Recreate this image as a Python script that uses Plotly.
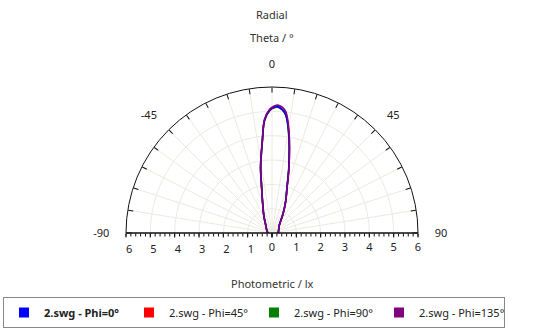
import plotly.graph_objects as go

# ---------------- data ----------------
theta_deg = [-90, -60, -39, -25, -16.7, -12, -9.9, -6, -3.7, -1, 1, 2.9, 4.8, 6.6, 9.6, 14.4, 18, 23.3, 30, 43, 60, 90]
r_phi0   = [0.17, 0.25, 0.41, 0.80, 1.36, 2.10, 2.73, 3.80, 4.67, 5.06, 5.17, 5.19, 5.08, 4.89, 4.13, 2.78, 2.00, 1.42, 0.90, 0.44, 0.32, 0.26]
r_phi45  = [0.17, 0.25, 0.40, 0.79, 1.34, 2.08, 2.70, 3.78, 4.64, 5.04, 5.15, 5.18, 5.10, 4.93, 4.18, 2.80, 2.02, 1.42, 0.90, 0.44, 0.32, 0.26]
r_phi90  = [0.17, 0.25, 0.40, 0.79, 1.35, 2.09, 2.72, 3.79, 4.66, 5.05, 5.16, 5.18, 5.07, 4.88, 4.12, 2.77, 2.00, 1.41, 0.90, 0.44, 0.32, 0.26]
r_phi135 = [0.17, 0.25, 0.41, 0.81, 1.37, 2.12, 2.75, 3.82, 4.70, 5.10, 5.22, 5.26, 5.18, 5.00, 4.20, 2.82, 2.03, 1.43, 0.91, 0.45, 0.32, 0.26]

series_names = ["<b>2.swg - Phi=0°</b>", "2.swg - Phi=45°", "2.swg - Phi=90°", "2.swg - Phi=135°"]
series_colors = ["#0000FF", "#FF0000", "#008000", "#800080"]
series_r = [r_phi0, r_phi45, r_phi90, r_phi135]

angular_tick_vals = list(range(-90, 91, 9))
angular_label_vals = [-90, -45, 0, 45, 90]
angular_label_text = ["-90", "-45", "0", "45", "90"]
radial_major = [0, 1, 2, 3, 4, 5, 6]
radial_major_text = ["0", "1", "2", "3", "4", "5", "6"]
radial_major_text_left = ["", "1", "2", "3", "4", "5", "6"]
radial_minor = [round(i * 0.2, 1) for i in range(31)]

FONT = "Noto Sans"
GRID = "#ECEAE0"

fig = go.Figure()

# draw order: red, green, blue, purple
for idx in [1, 2, 0, 3]:
    fig.add_trace(go.Scatterpolar(
        r=series_r[idx], theta=theta_deg, mode="lines",
        line=dict(color=series_colors[idx], width=1.6, shape="spline"),
        showlegend=False, subplot="polar", hoverinfo="skip"))

# legend entries (square symbols)
for name, col in zip(series_names, series_colors):
    fig.add_trace(go.Scatterpolar(
        r=[None], theta=[None], mode="markers",
        marker=dict(symbol="square", size=10, color=col),
        name=name, subplot="polar"))

cx0, cx1 = (272 - 146) / 534, (272 + 146) / 534
cy0, cy1 = 1 - 233 / 328, 1 - 87 / 328
dom = dict(x=[cx0, cx1], y=[cy0, cy1])

common_ang = dict(rotation=90, direction="clockwise", thetaunit="degrees")

fig.update_layout(
    width=534, height=328,
    margin=dict(l=0, r=0, t=0, b=0, autoexpand=False),
    paper_bgcolor="white",
    font=dict(family=FONT, size=11, color="#222"),
    polar=dict(
        domain=dom, sector=[0, 180], bgcolor="white",
        angularaxis=dict(**common_ang, tickvals=angular_tick_vals, showticklabels=False,
                         ticks="inside", ticklen=5, tickcolor="#111", showline=True,
                         linecolor="#111", linewidth=1, showgrid=True, gridcolor=GRID, gridwidth=1),
        radialaxis=dict(range=[0, 6], angle=0, side="clockwise", tickvals=radial_major,
                        ticktext=radial_major_text, ticks="outside", ticklen=4, tickcolor="#111",
                        showline=True, linecolor="#111", linewidth=1, showgrid=True,
                        gridcolor=GRID, gridwidth=1, tickfont=dict(size=11, color="#222")),
    ),
    polar2=dict(
        domain=dom, sector=[0, 180], bgcolor="rgba(0,0,0,0)",
        angularaxis=dict(**common_ang, tickvals=angular_label_vals, ticktext=angular_label_text,
                         ticks="outside", ticklen=14, tickcolor="rgba(0,0,0,0)", showline=False,
                         showgrid=False, tickfont=dict(size=11, color="#222")),
        radialaxis=dict(range=[0, 6], angle=180, side="counterclockwise", tickvals=radial_major,
                        ticktext=radial_major_text_left, ticks="outside", ticklen=4, tickcolor="#111",
                        tickangle=180,
                        showline=True, linecolor="#111", linewidth=1, showgrid=False,
                        tickfont=dict(size=11, color="#222")),
    ),
    polar3=dict(
        domain=dom, sector=[0, 180], bgcolor="rgba(0,0,0,0)",
        angularaxis=dict(**common_ang, visible=False),
        radialaxis=dict(range=[0, 6], angle=0, side="clockwise", tickvals=radial_minor,
                        showticklabels=False, ticks="outside", ticklen=3, tickcolor="#111",
                        showline=False, showgrid=False),
    ),
    polar4=dict(
        domain=dom, sector=[0, 180], bgcolor="rgba(0,0,0,0)",
        angularaxis=dict(**common_ang, visible=False),
        radialaxis=dict(range=[0, 6], angle=180, side="counterclockwise", tickvals=radial_minor,
                        showticklabels=False, ticks="outside", ticklen=3, tickcolor="#111",
                        showline=False, showgrid=False),
    ),
    legend=dict(orientation="h", x=3 / 534, y=1 - 297 / 328, xanchor="left", yanchor="top",
                bordercolor="#888", borderwidth=1, bgcolor="white",
                itemwidth=30, entrywidth=80, entrywidthmode="pixels",
                font=dict(family=FONT, size=11, color="#222")),
    annotations=[
        dict(text="Radial", x=272 / 534, y=1 - 14 / 328, xref="paper", yref="paper",
             xanchor="center", yanchor="middle", showarrow=False, font=dict(size=11, color="#333")),
        dict(text="Theta / °", x=272 / 534, y=1 - 37 / 328, xref="paper", yref="paper",
             xanchor="center", yanchor="middle", showarrow=False, font=dict(size=11, color="#333")),
        dict(text="Photometric / lx", x=272 / 534, y=1 - 283 / 328, xref="paper", yref="paper",
             xanchor="center", yanchor="middle", showarrow=False, font=dict(size=11, color="#333")),
    ],
)

# empty traces so the extra polar subplots render
for sp in ["polar2", "polar3", "polar4"]:
    fig.add_trace(go.Scatterpolar(r=[None], theta=[None], subplot=sp, showlegend=False, hoverinfo="skip"))

fig.write_html("out.html")
